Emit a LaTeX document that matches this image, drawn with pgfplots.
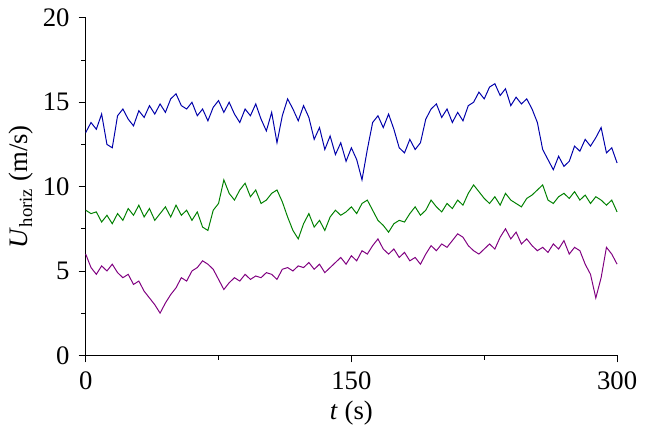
\documentclass[border=0pt]{standalone}
\usepackage{pgfplots}
\pgfplotsset{compat=1.18}
\usepackage{fontspec}
\setmainfont{Liberation Serif}
\definecolor{cb}{RGB}{0,0,170}
\definecolor{cg}{RGB}{0,128,0}
\definecolor{cp}{RGB}{128,0,128}
\begin{document}
\fontsize{19}{22}\selectfont
\begin{tikzpicture}
\begin{axis}[scale only axis, width=378pt, height=240pt,
 xmin=0,xmax=300,ymin=0,ymax=20,
 axis lines=left, axis line style={-},
 xtick={0,150,300}, minor xtick={75,225},
 ytick={0,5,10,15,20}, minor ytick={2.5,7.5,12.5,17.5},
 tick align=outside, major tick length=5pt, minor tick length=3pt,
 tick style={black,line width=0.6pt}, axis line style={line width=0.6pt},
 /pgf/number format/assume math mode=true,
 ticklabel style={font=\fontsize{19}{22}\selectfont},
 label style={font=\fontsize{19}{22}\selectfont},
 xlabel={\textit{t} (s)}, ylabel={\textit{U}\textsubscript{horiz} (m/s)},
 xlabel style={yshift=5pt}, ylabel style={yshift=-6pt},
 clip=false]
\addplot[cb,line width=0.7pt] coordinates {(0,13.2)(3,13.8)(6,13.4)(9,14.3)(12,12.5)(15,12.3)(18,14.2)(21,14.6)(24,14.0)(27,13.6)(30,14.5)(33,14.1)(36,14.8)(39,14.3)(42,14.9)(45,14.4)(48,15.2)(51,15.5)(54,14.8)(57,14.6)(60,15.0)(63,14.2)(66,14.6)(69,13.9)(72,14.7)(75,15.1)(78,14.4)(81,15.0)(84,14.3)(87,13.8)(90,14.6)(93,14.2)(96,14.9)(99,14.0)(102,13.3)(105,14.4)(108,12.6)(111,14.2)(114,15.2)(117,14.6)(120,13.9)(123,14.8)(126,14.1)(129,12.8)(132,13.5)(135,12.2)(138,13.0)(141,11.9)(144,12.6)(147,11.5)(150,12.3)(153,11.6)(156,10.4)(159,12.2)(162,13.8)(165,14.2)(168,13.5)(171,14.3)(174,13.4)(177,12.3)(180,12.0)(183,12.8)(186,12.2)(189,12.6)(192,14.0)(195,14.6)(198,14.9)(201,14.1)(204,14.6)(207,13.8)(210,14.4)(213,13.9)(216,14.8)(219,15.0)(222,15.6)(225,15.2)(228,15.9)(231,16.1)(234,15.4)(237,15.8)(240,14.8)(243,15.3)(246,14.9)(249,15.2)(252,14.6)(255,13.8)(258,12.2)(261,11.6)(264,11.0)(267,11.8)(270,11.2)(273,11.5)(276,12.4)(279,12.1)(282,12.8)(285,12.4)(288,12.9)(291,13.5)(294,12.0)(297,12.3)(300,11.4)};
\addplot[cg,line width=0.7pt] coordinates {(0,8.6)(3,8.4)(6,8.5)(9,7.9)(12,8.3)(15,7.8)(18,8.4)(21,8.0)(24,8.7)(27,8.3)(30,8.9)(33,8.2)(36,8.7)(39,8.0)(42,8.4)(45,8.8)(48,8.2)(51,8.9)(54,8.3)(57,8.6)(60,8.0)(63,8.5)(66,7.6)(69,7.4)(72,8.6)(75,9.0)(78,10.4)(81,9.6)(84,9.2)(87,9.8)(90,10.2)(93,9.4)(96,9.8)(99,9.0)(102,9.2)(105,9.6)(108,9.8)(111,9.1)(114,8.2)(117,7.4)(120,6.9)(123,7.8)(126,8.4)(129,7.6)(132,8.0)(135,7.4)(138,8.2)(141,8.6)(144,8.3)(147,8.5)(150,8.8)(153,8.4)(156,9.0)(159,9.2)(162,8.6)(165,8.0)(168,7.7)(171,7.3)(174,7.8)(177,8.0)(180,7.9)(183,8.4)(186,8.8)(189,8.3)(192,8.6)(195,9.2)(198,8.8)(201,8.5)(204,9.0)(207,8.7)(210,9.2)(213,8.9)(216,9.6)(219,10.1)(222,9.7)(225,9.3)(228,9.0)(231,9.4)(234,8.9)(237,9.6)(240,9.2)(243,9.0)(246,8.8)(249,9.3)(252,9.5)(255,9.8)(258,10.1)(261,9.2)(264,9.0)(267,9.4)(270,9.6)(273,9.3)(276,9.7)(279,9.2)(282,9.5)(285,9.0)(288,9.4)(291,9.2)(294,8.9)(297,9.2)(300,8.5)};
\addplot[cp,line width=0.7pt] coordinates {(0,6.0)(3,5.2)(6,4.8)(9,5.3)(12,5.0)(15,5.4)(18,4.9)(21,4.6)(24,4.8)(27,4.2)(30,4.4)(33,3.8)(36,3.4)(39,3.0)(42,2.5)(45,3.1)(48,3.6)(51,4.0)(54,4.6)(57,4.4)(60,5.0)(63,5.2)(66,5.6)(69,5.4)(72,5.1)(75,4.5)(78,3.9)(81,4.3)(84,4.6)(87,4.4)(90,4.8)(93,4.5)(96,4.7)(99,4.6)(102,4.9)(105,4.8)(108,4.5)(111,5.1)(114,5.2)(117,5.0)(120,5.3)(123,5.2)(126,5.5)(129,5.1)(132,5.4)(135,4.9)(138,5.2)(141,5.5)(144,5.8)(147,5.4)(150,5.9)(153,5.6)(156,6.2)(159,6.0)(162,6.5)(165,6.9)(168,6.3)(171,6.0)(174,6.3)(177,5.8)(180,6.1)(183,5.6)(186,5.8)(189,5.4)(192,6.0)(195,6.5)(198,6.2)(201,6.6)(204,6.4)(207,6.8)(210,7.2)(213,7.0)(216,6.5)(219,6.2)(222,6.0)(225,6.3)(228,6.6)(231,6.3)(234,7.0)(237,7.5)(240,6.9)(243,7.3)(246,6.6)(249,6.9)(252,6.5)(255,6.2)(258,6.4)(261,6.1)(264,6.6)(267,6.3)(270,6.8)(273,6.0)(276,6.4)(279,6.2)(282,5.4)(285,4.8)(288,3.4)(291,4.6)(294,6.4)(297,6.0)(300,5.4)};
\end{axis}
\end{tikzpicture}
\end{document}
